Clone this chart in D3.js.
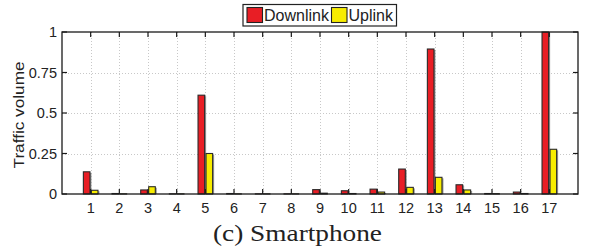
<!DOCTYPE html>
<html>
<head>
<meta charset="utf-8">
<script src="https://cdn.jsdelivr.net/npm/d3@7"></script>
<style>
  body { margin: 0; background: #fff; }
  svg { display: block; }
</style>
</head>
<body>
<svg id="chart" width="589" height="251"></svg>
<script>
const categories = [1, 2, 3, 4, 5, 6, 7, 8, 9, 10, 11, 12, 13, 14, 15, 16, 17];
const downlink = [0.137, 0.003, 0.025, 0.001, 0.61, 0.003, 0.001, 0.001, 0.027, 0.02, 0.03, 0.154, 0.895, 0.057, 0.003, 0.012, 1.0];
const uplink = [0.023, 0.001, 0.045, 0.001, 0.25, 0.001, 0.001, 0.001, 0.005, 0.003, 0.012, 0.041, 0.103, 0.025, 0.002, 0.003, 0.276];
const yTicks = [0, 0.25, 0.5, 0.75, 1];
const yTickLabels = ['0', '0.25', '0.5', '0.75', '1'];
const seriesNames = ['Downlink', 'Uplink'];
const seriesColors = ['#e81e25', '#f7ec00'];

const svg = d3.select('#chart');
const pLeft = 62, pRight = 578, pTop = 32, pBottom = 194;
const font = 'Liberation Sans, Arial, sans-serif';

const x = d3.scaleLinear().domain([0, 18]).range([pLeft, pRight]);
const y = d3.scaleLinear().domain([0, 1]).range([pBottom, pTop]);
const barW = 6.6;

// grid
const grid = svg.append('g')
  .attr('stroke', '#c8c8c8')
  .attr('stroke-width', 1)
  .attr('stroke-dasharray', '1,2');
grid.selectAll('line.v')
  .data(categories)
  .join('line')
    .attr('class', 'v')
    .attr('x1', d => Math.round(x(d)) + 0.5)
    .attr('x2', d => Math.round(x(d)) + 0.5)
    .attr('y1', pTop)
    .attr('y2', pBottom);
grid.selectAll('line.h')
  .data(yTicks.slice(1, -1))
  .join('line')
    .attr('class', 'h')
    .attr('x1', pLeft)
    .attr('x2', pRight)
    .attr('y1', d => Math.round(y(d)) + 0.5)
    .attr('y2', d => Math.round(y(d)) + 0.5);

// bars
const series = [downlink, uplink];
series.forEach((vals, s) => {
  const g = svg.append('g');
  const bx = (i) => x(categories[i]) + (s === 0 ? -barW - 0.7 : 0.7);
  // shadow
  g.selectAll('rect.sh')
    .data(vals)
    .join('rect')
      .attr('class', 'sh')
      .attr('x', (d, i) => bx(i) + 1.5)
      .attr('y', d => y(d) + 1)
      .attr('width', barW)
      .attr('height', d => Math.max(0, y(0) - y(d) - 1))
      .attr('fill', '#9a9a9a');
  g.selectAll('rect.bar')
    .data(vals)
    .join('rect')
      .attr('class', 'bar')
      .attr('x', (d, i) => bx(i))
      .attr('y', d => y(d))
      .attr('width', barW)
      .attr('height', d => y(0) - y(d))
      .attr('fill', seriesColors[s])
      .attr('stroke', '#2a2a2a')
      .attr('stroke-width', 1.1);
});

// axes box
svg.append('rect')
  .attr('x', pLeft)
  .attr('y', pTop)
  .attr('width', pRight - pLeft)
  .attr('height', pBottom - pTop)
  .attr('fill', 'none')
  .attr('stroke', '#1a1a1a')
  .attr('stroke-width', 1.3);

const tickG = svg.append('g').attr('stroke', '#1a1a1a').attr('stroke-width', 1.2);
categories.forEach(c => {
  tickG.append('line').attr('x1', x(c)).attr('x2', x(c)).attr('y1', pTop).attr('y2', pTop + 5);
  tickG.append('line').attr('x1', x(c)).attr('x2', x(c)).attr('y1', pBottom).attr('y2', pBottom - 5);
});
yTicks.forEach(t => {
  tickG.append('line').attr('x1', pLeft).attr('x2', pLeft + 5).attr('y1', y(t)).attr('y2', y(t));
  tickG.append('line').attr('x1', pRight).attr('x2', pRight - 5).attr('y1', y(t)).attr('y2', y(t));
});

// tick labels
svg.append('g')
  .selectAll('text')
  .data(categories)
  .join('text')
    .attr('x', d => x(d))
    .attr('y', 212.5)
    .attr('text-anchor', 'middle')
    .attr('font-family', font)
    .attr('font-size', 14.5)
    .attr('fill', '#222')
    .text(d => d);

svg.append('g')
  .selectAll('text')
  .data(yTicks)
  .join('text')
    .attr('x', 57)
    .attr('y', d => y(d) + 5)
    .attr('text-anchor', 'end')
    .attr('font-family', font)
    .attr('font-size', 14.5)
    .attr('fill', '#222')
    .text((d, i) => yTickLabels[i]);

svg.append('text')
  .attr('transform', 'translate(24,115) rotate(-90)')
  .attr('text-anchor', 'middle')
  .attr('font-family', font)
  .attr('font-size', 15.5)
  .attr('textLength', 107)
  .attr('lengthAdjust', 'spacingAndGlyphs')
  .attr('fill', '#222')
  .text('Traffic volume');

// legend
const lg = svg.append('g');
lg.append('rect')
  .attr('x', 243).attr('y', 4.5).attr('width', 153.5).attr('height', 21.5)
  .attr('fill', '#fff').attr('stroke', '#222').attr('stroke-width', 1.2);
const legX = [247, 331.5];
seriesNames.forEach((n, i) => {
  lg.append('rect')
    .attr('x', legX[i]).attr('y', 7.5).attr('width', 15.5).attr('height', 15)
    .attr('fill', seriesColors[i]).attr('stroke', '#222').attr('stroke-width', 1.1);
  lg.append('text')
    .attr('x', legX[i] + 17).attr('y', 20.8)
    .attr('font-family', font).attr('font-size', 16).attr('fill', '#222')
    .text(n);
});

// caption
svg.append('text')
  .attr('x', 213)
  .attr('y', 241)
  .attr('font-family', 'Liberation Serif, DejaVu Serif, serif')
  .attr('font-size', 23)
  .attr('textLength', 169)
  .attr('lengthAdjust', 'spacingAndGlyphs')
  .attr('fill', '#222')
  .text('(c) Smartphone');
</script>
</body>
</html>
